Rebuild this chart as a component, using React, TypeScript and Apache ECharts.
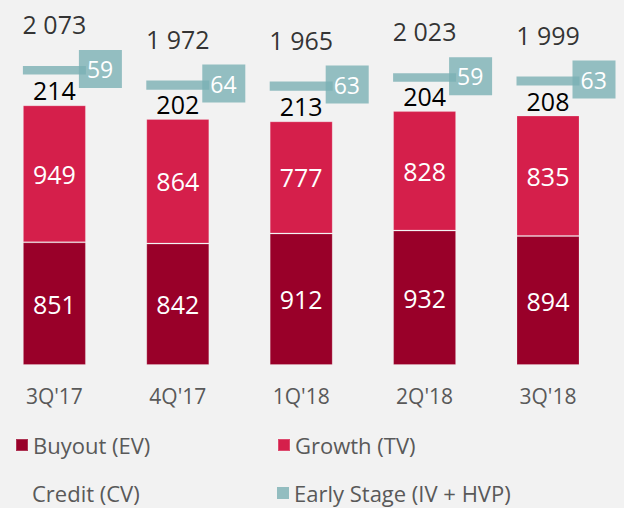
import React, { useEffect, useRef } from "react";
import * as echarts from "echarts";

const categories = ["3Q'17", "4Q'17", "1Q'18", "2Q'18", "3Q'18"];
const buyout = [851, 842, 912, 932, 894];
const growth = [949, 864, 777, 828, 835];
const credit = [214, 202, 213, 204, 208];
const earlyStage = [59, 64, 63, 59, 63];
const totals = [2073, 1972, 1965, 2023, 1999];

const seriesNames = ["Buyout (EV)", "Growth (TV)", "Credit (CV)", "Early Stage (IV + HVP)"];

const BG = "#f2f2f2";
const FONT = "'Open Sans', 'Noto Sans', sans-serif";
const SHIFT = 8; // div is shifted left by this many px so the first bar can sit near the edge

const fmtThousands = (v: number) =>
  v >= 1000 ? `${Math.floor(v / 1000)} ${String(v % 1000).padStart(3, "0")}` : String(v);

const legendItem = (name: string, left: number, top: number) => ({
  data: [name],
  left: left + SHIFT,
  top,
  padding: 0,
  itemWidth: 12,
  itemHeight: 12,
  itemGap: 6,
  icon: "rect",
  selectedMode: false,
  textStyle: { color: "#595959", fontSize: 22, lineHeight: 26, fontFamily: FONT },
});

export default function App() {
  const ref = useRef<HTMLDivElement>(null);
  useEffect(() => {
    if (!ref.current) return;
    const chart = echarts.init(ref.current, undefined, { renderer: "svg" });
    const barBase = {
      type: "bar" as const,
      stack: "total",
      barWidth: 63,
    };
    chart.setOption({
      animation: false,
      backgroundColor: BG,
      textStyle: { fontFamily: FONT },
      grid: { left: 0.7, right: 14.3, top: 18.8, bottom: 143, containLabel: false },
      xAxis: {
        type: "category",
        data: categories,
        axisLine: { show: false },
        axisTick: { show: false },
        axisLabel: { color: "#595959", fontSize: 21, margin: 20, fontFamily: FONT },
      },
      yAxis: {
        type: "value",
        min: 0,
        max: 2400,
        show: false,
        splitLine: { show: false },
      },
      legend: [
        legendItem(seriesNames[0], 15, 432),
        legendItem(seriesNames[1], 277, 432),
        legendItem(seriesNames[2], 15, 480),
        legendItem(seriesNames[3], 277, 480),
      ],
      series: [
        {
          ...barBase,
          name: seriesNames[0],
          data: buyout,
          itemStyle: { color: "#990029", borderColor: "rgba(255,255,255,0.2)", borderWidth: 1 },
          label: { show: true, position: "inside", color: "#ffffff", fontSize: 25, fontFamily: FONT },
        },
        {
          ...barBase,
          name: seriesNames[1],
          data: growth,
          itemStyle: { color: "#d51f4b", borderColor: "rgba(255,255,255,0.2)", borderWidth: 1 },
          label: { show: true, position: "inside", color: "#ffffff", fontSize: 25, fontFamily: FONT },
        },
        {
          ...barBase,
          name: seriesNames[2],
          data: credit,
          itemStyle: { color: BG },
          label: { show: true, position: "inside", color: "#000000", fontSize: 25, fontFamily: FONT },
        },
        {
          ...barBase,
          name: seriesNames[3],
          data: earlyStage,
          itemStyle: { color: "#93bdc0" },
          label: {
            show: true,
            position: [56, -16],
            color: "#ffffff",
            fontSize: 23,
            lineHeight: 24,
            fontFamily: FONT,
            backgroundColor: "rgba(123,176,180,0.8)",
            padding: [7, 8, 7, 8],
            width: 27,
            align: "left",
            verticalAlign: "top",
          },
        },
        {
          type: "scatter",
          name: "Total",
          data: totals,
          symbolSize: 0,
          itemStyle: { color: "rgba(0,0,0,0)" },
          label: {
            show: true,
            position: "top",
            distance: 29,
            color: "#000000",
            fontSize: 25,
            lineHeight: 26,
            fontFamily: FONT,
            formatter: (p: any) => fmtThousands(p.value),
          },
          z: 10,
        },
      ],
    });
    return () => chart.dispose();
  }, []);
  return (
    <div
      ref={ref}
      style={{
        position: "fixed",
        left: -SHIFT,
        top: 0,
        width: 624 + SHIFT,
        height: 508,
        background: BG,
      }}
    />
  );
}
